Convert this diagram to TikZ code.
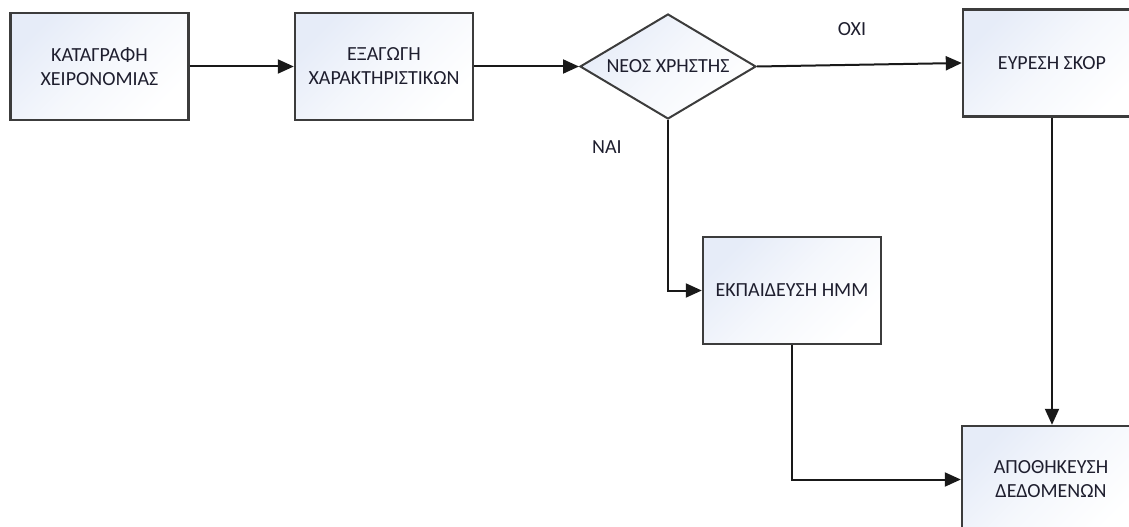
\documentclass[tikz,border=0pt]{standalone}
\usepackage{fontspec}
\setmainfont{Carlito}
\usetikzlibrary{shapes.geometric,arrows.meta}
\definecolor{boxblue}{HTML}{E6ECF8}
\definecolor{edgegray}{HTML}{3C3C3C}
\definecolor{txt}{HTML}{1E1E2E}
\tikzset{
  procbox/.style={draw=edgegray, line width=2.4pt, rectangle, minimum width=178pt, minimum height=107pt,
    inner sep=0pt, top color=boxblue, bottom color=white, middle color=white!60!boxblue, shading angle=45, align=center,
    font=\fontsize{20}{24}\selectfont, text=txt},
  decbox/.style={draw=edgegray, line width=2pt, diamond, minimum width=176pt, minimum height=105pt,
    inner sep=0pt, top color=boxblue, bottom color=white, middle color=white!60!boxblue, shading angle=45},
  lbl/.style={font=\fontsize{20}{24}\selectfont, text=txt, inner sep=0pt},
  conn/.style={draw=black!90, line width=2pt, -{Triangle[length=16pt,width=14pt]}},
}
\begin{document}
\begin{tikzpicture}[x=1pt,y=-1pt]
\useasboundingbox (0,0) rectangle (1129,527);
\node[procbox] (k1) at (99.5,66.5) {ΚΑΤΑΓΡΑΦΗ\\ΧΕΙΡΟΝΟΜΙΑΣ};
\node[procbox] (k2) at (384,66.5) {ΕΞΑΓΩΓΗ\\ΧΑΡΑΚΤΗΡΙΣΤΙΚΩΝ};
\node[decbox] (d) at (668,66.5) {};
\node[lbl] (dt) at (d.center) {ΝΕΟΣ ΧΡΗΣΤΗΣ};
\node[procbox] (s) at (1052,63) {ΕΥΡΕΣΗ ΣΚΟΡ};
\node[procbox] (e) at (792,290.5) {ΕΚΠΑΙΔΕΥΣΗ ΗΜΜ};
\node[procbox] (a) at (1051,479.5) {ΑΠΟΘΗΚΕΥΣΗ\\ΔΕΔΟΜΕΝΩΝ};
\node[lbl] (oxi) at (852,29) {ΟΧΙ};
\node[lbl] (nai) at (607,147) {ΝΑΙ};
\draw[conn] (k1.east) -- (k2.west);
\draw[conn] (k2.east) -- (d.west);
\draw[conn] (d.east) -- (s.west);
\draw[conn] (d.south) |- (e.west);
\draw[conn] (s.south) -- (s.south |- a.north);
\draw[conn] (e.south) |- (a.west);
\end{tikzpicture}
\end{document}
